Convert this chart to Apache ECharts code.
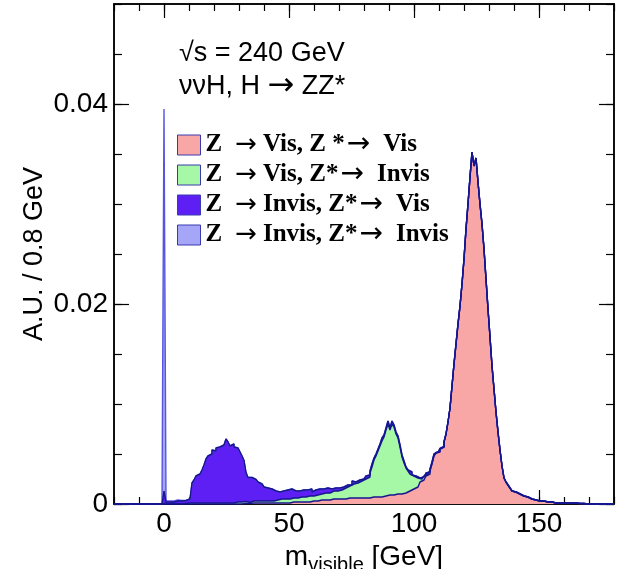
<!DOCTYPE html>
<html>
<head>
<meta charset="utf-8">
<script src="https://cdn.jsdelivr.net/npm/echarts@6/dist/echarts.min.js"></script>
<style>
  html, body { margin: 0; padding: 0; background: #fff; }
  #chart { width: 621px; height: 569px; }
</style>
</head>
<body>
<div id="chart"></div>
<script>
// ---- binning ----
const binWidth = 0.8;
const xMin = -20;
const xMax = 180;
const nBins = 250;

// ---- histogram contents, in units of 1e-4 A.U. per bin, each list starts at its own bin edge ----
const seriesNames = [
    'Z  \u2192 Vis, Z *\u2192 Vis',
    'Z  \u2192 Vis, Z*\u2192 Invis',
    'Z  \u2192 Invis, Z*\u2192 Vis',
    'Z  \u2192 Invis, Z*\u2192 Invis'
];

const visVisStart = 32.0;
const visVis = [
    0.5, 0.5, 0.5, 0.5, 1, 0.5, 1, 1, 1, 1,
    1, 1, 1, 1, 1, 1, 1, 1, 1, 1,
    1, 2, 1, 2, 2, 2, 2, 2, 2, 2,
    2, 3, 2, 3, 3, 3, 3, 3, 4, 3,
    4, 4, 4, 4, 5, 4, 5, 5, 5, 5,
    5, 5, 6, 5, 6, 6, 6, 6, 6, 6,
    6, 7, 6, 7, 7, 7, 7, 8, 7, 8,
    8, 8, 9, 8, 9, 9, 10, 10, 10, 11,
    11, 12, 13, 14, 15, 16, 17, 19, 22, 24,
    26, 28, 30, 33, 40, 48, 51, 52, 55, 57,
    62, 70, 82, 96, 118, 140, 160, 180, 198, 220,
    245, 275, 300, 327, 352, 338, 346, 322, 300, 280,
    255, 225, 195, 167, 138, 115, 92, 72, 54, 38,
    26, 22, 19, 16, 13, 12, 11, 10, 9, 8,
    7, 7, 6, 5, 5, 4, 4, 3, 3, 3,
    2, 2, 2, 2, 2, 1, 2, 1, 1, 1,
    1, 1, 1, 1, 0.5, 1, 0.5, 0.5, 0.5, 0.5
];

const visInvisStart = 8.0;
const visInvis = [
    0.5, 0.5, 1, 1, 1, 1, 1, 1, 1, 1,
    1, 1, 1, 1, 1, 1, 1, 1, 1, 1,
    1, 1, 1, 1, 1, 1, 2, 1, 2, 1,
    2, 2, 1, 2, 2, 2, 2, 2, 2, 2,
    2, 2, 2, 3, 2, 3, 3, 3, 4, 3,
    4, 4, 4, 4, 4, 5, 4, 5, 5, 6,
    5, 5, 6, 6, 5, 6, 6, 7, 6, 8,
    7, 8, 7, 8, 8, 9, 8, 9, 9, 10,
    11, 11, 12, 12, 14, 14, 15, 16, 17, 17,
    19, 19, 21, 24, 30, 37, 41, 45, 51, 55,
    59, 66, 71, 66, 71, 68, 60, 56, 47, 36,
    30, 24, 20, 16, 13, 11, 9, 6, 3, 2,
    2, 2, 1, 1, 1, 1, 0.5, 0.5
];

const invisVisStart = 0.0;
const invisVis = [
    13, 2, 2, 2, 2, 2, 3, 3, 3, 3,
    3, 4, 4, 5, 20, 23, 27, 29, 31, 33,
    38, 44, 47, 49, 53, 52, 55, 56, 56, 58,
    59, 64, 61, 57, 59, 56, 54, 55, 50, 47,
    41, 29, 25, 24, 23, 22, 20, 19, 17, 16,
    14, 13, 12, 11, 11, 9, 9, 8, 7, 9,
    7, 8, 7, 9, 7, 6, 7, 6, 6, 6,
    5, 6, 5, 6, 4, 5, 4, 5, 4, 4,
    3, 4, 3, 3, 3, 3, 3, 2, 3, 2,
    2, 3, 2, 2, 3, 2, 2, 2, 2, 2,
    2, 2, 2, 2, 3, 2, 2, 2, 2, 3,
    2, 2, 3, 2, 3, 2, 2, 2, 2, 2,
    2, 1, 1, 2, 1, 1, 1, 1, 1, 1,
    1, 1, 1, 1, 1, 1, 0.5, 0.5, 0.5, 0.5
];

const invisInvisStart = 0.0;
const invisInvis = [382, 1, 1, 1, 1, 1, 1, 0.5, 0.5, 0.5];

// tick labels
const xLabelValues = [0, 50, 100, 150];
const yLabelValues = [0, 0.02, 0.04];

// ---- styles ----
const fills = ['#f9a6a6', '#a6f7a6', '#5e1ff5', '#a6a6f8'];
const outlines = ['#16168f', '#16168f', '#16168f', '#5555e2'];
const font = 'Liberation Sans';

// put a list into the full 250-bin range
function toBins(start, vals) {
    const arr = new Array(nBins).fill(0);
    const i0 = Math.round((start - xMin) / binWidth);
    vals.forEach((v, i) => { arr[i0 + i] = v * 1e-4; });
    return arr;
}
// step points: every left bin edge, plus the last right edge
function toPoints(arr) {
    const pts = arr.map((v, i) => [xMin + i * binWidth, v]);
    pts.push([xMax, arr[nBins - 1]]);
    return pts;
}

const histos = [
    toBins(visVisStart, visVis),
    toBins(visInvisStart, visInvis),
    toBins(invisVisStart, invisVis),
    toBins(invisInvisStart, invisInvis)
];

// THStack style: each curve is the running sum, the tallest is drawn first
const cumul = [];
histos.forEach((h, k) => {
    cumul.push(h.map((v, i) => v + (k > 0 ? cumul[k - 1][i] : 0)));
});

const series = [3, 2, 1, 0].map(k => ({
    name: seriesNames[k],
    type: 'line',
    step: 'end',
    symbol: 'none',
    xAxisIndex: 0,
    yAxisIndex: 0,
    color: fills[k],
    lineStyle: { color: outlines[k], width: 1.4 },
    areaStyle: { color: fills[k], opacity: 1, origin: 'start' },
    data: toPoints(cumul[k])
}));

// ---- axes: a minor and a major axis on each of the four sides, ROOT style ticks inside ----
const frameLine = { show: true, onZero: false, lineStyle: { color: '#000', width: 1.5 } };
function xAxisOf(position, major) {
    const ax = {
        type: 'value', position: position, min: xMin, max: xMax,
        axisLine: frameLine, splitLine: { show: false },
        axisTick: { show: true, inside: true, length: 7, lineStyle: { color: '#000', width: 1.2 } },
        axisLabel: { show: false }
    };
    if (major) {
        ax.axisTick = { show: true, inside: true, length: 14, customValues: xLabelValues, lineStyle: { color: '#000', width: 1.2 } };
    } else {
        ax.interval = 10;
    }
    return ax;
}
function yAxisOf(position, major) {
    const ax = {
        type: 'value', position: position, min: 0, max: 0.05,
        axisLine: frameLine, splitLine: { show: false },
        axisTick: { show: true, inside: true, length: 8, lineStyle: { color: '#000', width: 1.2 } },
        axisLabel: { show: false }
    };
    if (major) {
        ax.axisTick = { show: true, inside: true, length: 15, customValues: yLabelValues, lineStyle: { color: '#000', width: 1.2 } };
    } else {
        ax.interval = 0.005;
    }
    return ax;
}

const xAxes = [xAxisOf('bottom', false), xAxisOf('bottom', true), xAxisOf('top', false), xAxisOf('top', true)];
xAxes[1].axisLabel = {
    show: true, customValues: xLabelValues, fontFamily: font, fontSize: 28, color: '#000', margin: 6
};
xAxes[1].name = '{m|m}{s|visible}{m| [GeV]}';
xAxes[1].nameLocation = 'middle';
xAxes[1].nameGap = 31;
xAxes[1].nameTextStyle = {
    rich: {
        m: { fontFamily: font, fontSize: 28, color: '#000', verticalAlign: 'bottom', padding: [0, 0, 5, 0] },
        s: { fontFamily: font, fontSize: 20, color: '#000', verticalAlign: 'bottom' }
    }
};

const yAxes = [yAxisOf('left', false), yAxisOf('left', true), yAxisOf('right', false), yAxisOf('right', true)];
yAxes[1].axisLabel = {
    show: true, customValues: yLabelValues, fontFamily: font, fontSize: 28, color: '#000', margin: 6,
    formatter: v => (v === 0 ? '0' : v.toFixed(2))
};

// legend text: bold serif words, wide arrows like ROOT's symbol font
function legendText(name) {
    const p = name.split('\u2192').map(s => s.trim());
    return '{t|' + p[0] + '}{a|\u2192}{t|' + p[1] + '}{b|\u2192}{t|' + p[2] + '}';
}
const legendWord = { fontFamily: 'Liberation Serif', fontWeight: 'bold', fontSize: 25, color: '#000', lineHeight: 20 };
const legendArrow = { fontFamily: 'DejaVu Sans', fontWeight: 'normal', fontSize: 26, color: '#000', lineHeight: 20 };

const chart = echarts.init(document.getElementById('chart'), null, { renderer: 'canvas' });
chart.setOption({
    animation: false,
    backgroundColor: '#fff',
    grid: { left: 114, right: 7, top: 4, bottom: 65, containLabel: false, outerBoundsMode: 'none' },
    xAxis: xAxes,
    yAxis: yAxes,
    legend: {
        orient: 'vertical', left: 177, top: 131, padding: 0,
        itemWidth: 23, itemHeight: 20, itemGap: 2,
        icon: 'rect', selectedMode: false,
        itemStyle: { borderColor: '#3b3bb0', borderWidth: 1 },
        formatter: legendText,
        textStyle: {
            fontFamily: 'Liberation Serif', fontWeight: 'bold', fontSize: 25, color: '#000', lineHeight: 20,
            rich: {
                t: legendWord,
                a: Object.assign({}, legendArrow, { padding: [0, 6, 0, 13] }),
                b: Object.assign({}, legendArrow, { fontSize: 28, padding: [0, 13, 0, 2] })
            }
        },
        data: seriesNames
    },
    graphic: [
        {
            type: 'text', x: 179, y: 54, z: 100,
            style: {
                text: '\u221As = 240 GeV', font: '27px "Liberation Sans"', fill: '#000',
                verticalAlign: 'middle', textVerticalAlign: 'middle'
            }
        },
        {
            type: 'text', x: 179, y: 87, z: 100,
            style: {
                text: '{t|\u03BD\u03BDH, H }{a|\u2192}{t| ZZ*}', fill: '#000',
                verticalAlign: 'middle', textVerticalAlign: 'middle',
                rich: {
                    t: { fontFamily: font, fontSize: 27, fill: '#000', color: '#000', lineHeight: 30 },
                    a: { fontFamily: 'DejaVu Sans', fontSize: 32, fill: '#000', color: '#000', lineHeight: 30 }
                }
            }
        },
        {
            type: 'text', x: 35, y: 254, z: 100, rotation: Math.PI / 2,
            style: {
                text: 'A.U. / 0.8 GeV', font: '27px "Liberation Sans"', fill: '#000',
                align: 'center', textAlign: 'center', verticalAlign: 'middle', textVerticalAlign: 'middle'
            }
        }
    ],
    series: series
});
</script>
</body>
</html>
